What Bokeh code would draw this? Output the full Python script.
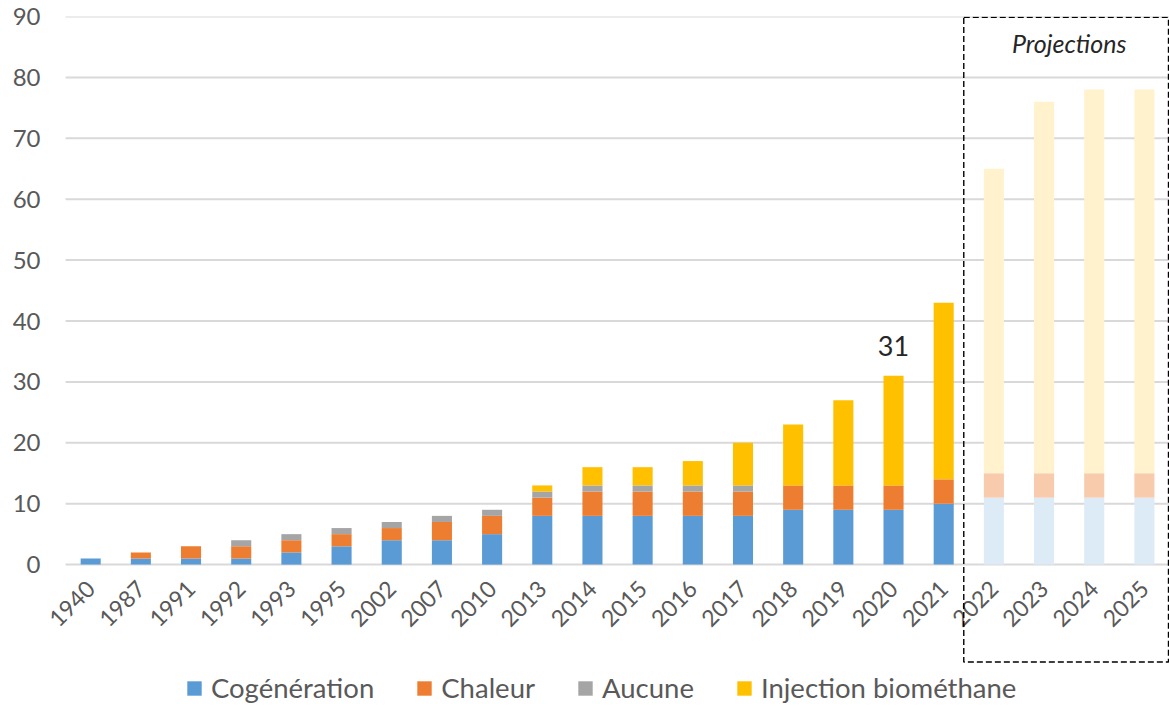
from bokeh.plotting import figure
from bokeh.models import ColumnDataSource, BoxAnnotation, Label, Legend, LegendItem, FixedTicker, Range1d
from bokeh.core.properties import value
from bokeh.embed import file_html
from bokeh.resources import INLINE
import math

years = ["1940", "1987", "1991", "1992", "1993", "1995", "2002", "2007", "2010", "2013",
         "2014", "2015", "2016", "2017", "2018", "2019", "2020", "2021",
         "2022", "2023", "2024", "2025"]
cogeneration = [1, 1, 1, 1, 2, 3, 4, 4, 5, 8, 8, 8, 8, 8, 9, 9, 9, 10, 11, 11, 11, 11]
chaleur      = [0, 1, 2, 2, 2, 2, 2, 3, 3, 3, 4, 4, 4, 4, 4, 4, 4, 4, 4, 4, 4, 4]
aucune       = [0, 0, 0, 1, 1, 1, 1, 1, 1, 1, 1, 1, 1, 1, 0, 0, 0, 0, 0, 0, 0, 0]
injection    = [0, 0, 0, 0, 0, 0, 0, 0, 0, 1, 3, 3, 4, 7, 10, 14, 18, 29, 50, 61, 63, 63]
projection_years = ["2022", "2023", "2024", "2025"]
y_ticks = [0, 10, 20, 30, 40, 50, 60, 70, 80, 90]
series = ["cog", "chal", "auc", "inj"]
labels = ["Cogénération", "Chaleur", "Aucune", "Injection biométhane"]
colors = ["#5B9BD5", "#ED7D31", "#A5A5A5", "#FFC000"]
light_colors = ["#DDEBF7", "#F8CBAD", "#DBDBDB", "#FFF2CC"]

FONT = "Lato"
TXT = "#595959"
n = len(years)

def subset(keep):
    d = {"x": [], "year": [], "cog": [], "chal": [], "auc": [], "inj": []}
    for i, y in enumerate(years):
        if keep(y):
            d["x"].append(i)
            d["year"].append(y)
            d["cog"].append(cogeneration[i])
            d["chal"].append(chaleur[i])
            d["auc"].append(aucune[i])
            d["inj"].append(injection[i])
    return ColumnDataSource(d)

hist = subset(lambda y: y not in projection_years)
proj = subset(lambda y: y in projection_years)

p = figure(width=1169, height=706, x_range=Range1d(-1.0, n - 0.5),
           y_range=Range1d(-23.3, 90),
           output_backend="svg", toolbar_location=None,
           min_border_left=40, min_border_right=0, min_border_top=16, min_border_bottom=0)
p.outline_line_color = None
p.xgrid.grid_line_color = None
p.ygrid.grid_line_color = None

# horizontal gridlines over the category span
p.segment(x0=[-0.5] * len(y_ticks), x1=[n - 0.5] * len(y_ticks), y0=y_ticks, y1=y_ticks,
          line_color="#D9D9D9", line_width=2)

r_hist = p.vbar_stack(series, x="x", width=0.4, color=colors, source=hist, line_width=0)
p.vbar_stack(series, x="x", width=0.4, color=light_colors, source=proj, line_width=0)

p.yaxis.ticker = FixedTicker(ticks=y_ticks)
p.yaxis.axis_line_color = None
p.yaxis.major_tick_line_color = None
p.yaxis.minor_tick_line_color = None
p.yaxis.major_tick_out = 0
p.yaxis.major_label_text_font = FONT
p.yaxis.major_label_text_font_size = "24px"
p.yaxis.major_label_text_color = TXT
p.yaxis.major_label_standoff = 0

p.xaxis.fixed_location = 0
p.xaxis.ticker = FixedTicker(ticks=list(range(n)))
p.xaxis.major_label_overrides = {i: y for i, y in enumerate(years)}
p.xaxis.minor_tick_line_color = None
p.xaxis.axis_line_color = None
p.xaxis.major_tick_line_color = None
p.xaxis.major_label_orientation = math.pi / 4
p.xaxis.major_label_text_font = FONT
p.xaxis.major_label_text_font_size = "23px"
p.xaxis.major_label_text_color = TXT
p.xaxis.major_label_standoff = 14

# dashed projections box
box = BoxAnnotation(left=17.4, right=n - 0.52, top=89.85, bottom=-16.0,
                    fill_color=None, line_color="#000000", line_alpha=1.0,
                    line_dash="6 3", line_width=1.4)
p.add_layout(box)

p.add_layout(Label(x=19.5, y=85.6, text="Projections", text_font=FONT, text_font_style="italic",
                   text_font_size="25px", text_color="#262626", text_align="center", text_baseline="middle"))

i2020 = years.index("2020")
p.text(x=[i2020], y=[cogeneration[i2020] + chaleur[i2020] + aucune[i2020] + injection[i2020]],
       text=["31"], text_font=value(FONT), text_font_size="27px", text_color="#262626",
       text_align="center", text_baseline="bottom", y_offset=-20)

legend = Legend(items=[LegendItem(label=l, renderers=[r]) for l, r in zip(labels, r_hist)],
                orientation="horizontal", location=(145, 2),
                border_line_color=None, background_fill_alpha=0, padding=0, margin=0,
                label_text_font=FONT, label_text_font_size="27.5px", label_text_color=TXT,
                glyph_width=18, glyph_height=18, spacing=41, label_standoff=8)
p.add_layout(legend)

open("out.html", "w").write(file_html(p, INLINE))
